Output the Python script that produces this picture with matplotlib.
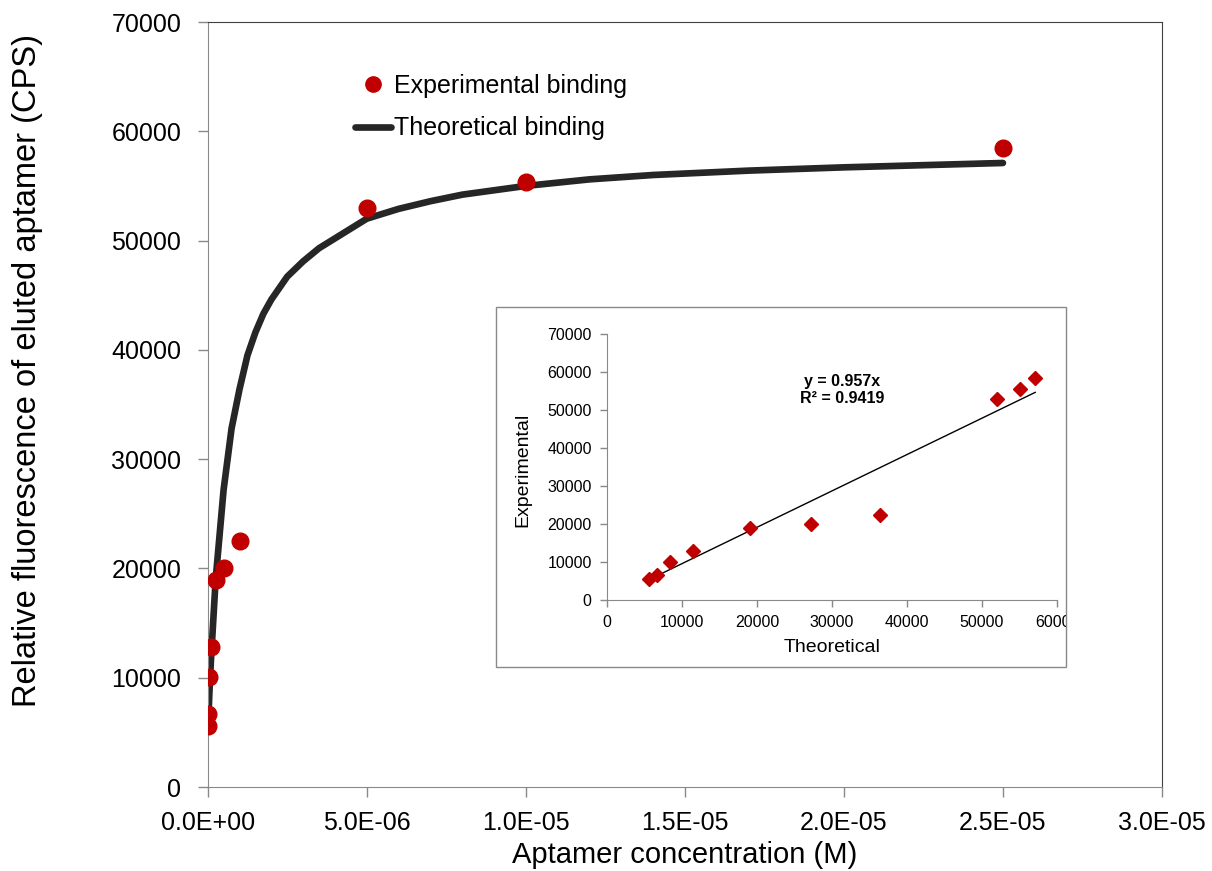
import matplotlib
matplotlib.use("Agg")
import matplotlib.pyplot as plt
from matplotlib.lines import Line2D
from matplotlib.patches import Rectangle
import numpy as np

plt.rcParams['font.family'] = ['Liberation Sans', 'DejaVu Sans']

# experimental binding (main chart)
conc = [1e-8, 2.5e-8, 5e-8, 1e-7, 2.5e-7, 5e-7, 1e-6, 5e-6, 1e-5, 2.5e-5]
exp_cps = [5600, 6700, 10100, 12800, 18900, 20000, 22500, 53000, 55400, 58500]

# theoretical binding curve
theo_conc = [1e-8, 2.5e-8, 5e-8, 1e-7, 2.5e-7, 5e-7, 7.5e-7, 1e-6, 1.25e-6,
             1.5e-6, 1.75e-6, 2e-6, 2.5e-6, 3e-6, 3.5e-6, 4e-6, 4.5e-6, 5e-6,
             6e-6, 7e-6, 8e-6, 9e-6, 1e-5, 1.2e-5, 1.4e-5, 1.7e-5, 2e-5, 2.5e-5]
theo_cps = [5600, 6600, 8400, 11500, 19000, 27200, 32800, 36400, 39500,
            41600, 43300, 44600, 46700, 48100, 49300, 50200, 51100, 52000,
            52900, 53600, 54200, 54600, 55000, 55600, 56000, 56400, 56700, 57100]

# inset: theoretical vs experimental at the measured concentrations
inset_theo = [5600, 6600, 8400, 11500, 19000, 27200, 36400, 52000, 55000, 57100]
inset_exp = exp_cps
slope = 0.957
r2 = 0.9419

W, H = 1212, 871
fig = plt.figure(figsize=(W / 100, H / 100), dpi=100)

# main axes
x0, x1, y0, y1 = 207.7, 1162, 787, 22
ax = fig.add_axes([x0 / W, 1 - y0 / H, (x1 - x0) / W, (y0 - y1) / H])
ax.set_zorder(0)

ax.plot(theo_conc, theo_cps, color='#262626', lw=4.8,
        solid_capstyle='round', zorder=2)
ax.plot(conc, exp_cps, 'o', color='#C00000', ms=12, mec='#C00000',
        zorder=3)

ax.set_xlim(0, 3e-5)
ax.set_ylim(0, 70000)
xt = np.arange(0, 3.01e-5, 5e-6)
ax.set_xticks(xt)
ax.set_xticklabels(['{:.1E}'.format(v) for v in xt])
ax.set_yticks(np.arange(0, 70001, 10000))
ax.tick_params(direction='out', length=7, width=1, color='#898989',
               labelsize=18)
ax.tick_params(axis='x', pad=10)
ax.tick_params(axis='y', pad=12)
for s in ['left', 'bottom']:
    ax.spines[s].set_color('#898989')
for s in ['top', 'right']:
    ax.spines[s].set_color('#404040')

ax.set_xlabel('Aptamer concentration (M)', fontsize=21)
ax.set_ylabel('Relative fluorescence of eluted aptamer (CPS)', fontsize=23.5)
ax.xaxis.set_label_coords(0.5, (y0 - 855) / (y0 - y1))
ax.yaxis.set_label_coords((27 - x0) / (x1 - x0), (y0 - 370) / (y0 - y1))
ax.xaxis.label.set_va('center')
ax.yaxis.label.set_va('center')

handles = [
    Line2D([], [], marker='o', ls='none', color='#C00000', ms=11),
    Line2D([], [], color='#262626', lw=4.8, solid_capstyle='round'),
]
fig.legend(handles, ['Experimental binding', 'Theoretical binding'],
           loc='upper left', bbox_to_anchor=(345 / W, 1 - 64 / H),
           frameon=False, fontsize=18, handlelength=1.45,
           handletextpad=0.1, borderaxespad=0, labelspacing=0.74)

# inset box
box = Rectangle((496 / W, 1 - 667 / H), 570 / W, 360 / H,
                transform=fig.transFigure, facecolor='white',
                edgecolor='#898989', lw=1, zorder=1)
fig.add_artist(box)

ix0, ix1, iy0, iy1 = 607, 1057, 600, 334
ax_in = fig.add_axes([ix0 / W, 1 - iy0 / H, (ix1 - ix0) / W, (iy0 - iy1) / H])
ax_in.set_zorder(2)
ax_in.patch.set_alpha(0)

fit_x = np.array([min(inset_theo), max(inset_theo)])
ax_in.plot(fit_x, slope * fit_x, color='black', lw=1)
ax_in.plot(inset_theo, inset_exp, 'D', color='#C00000', ms=7.5, zorder=3)

ax_in.set_xlim(0, 60000)
ax_in.set_ylim(0, 70000)
ax_in.set_xticks(np.arange(0, 60001, 10000))
ax_in.set_yticks(np.arange(0, 70001, 10000))
ax_in.tick_params(direction='out', length=5, width=1, color='#898989',
                  labelsize=11.5, pad=6)
ax_in.spines['top'].set_visible(False)
ax_in.spines['right'].set_visible(False)
for s in ['left', 'bottom']:
    ax_in.spines[s].set_color('#898989')

ax_in.set_xlabel('Theoretical', fontsize=14)
ax_in.set_ylabel('Experimental', fontsize=14)
ax_in.xaxis.set_label_coords(0.5, (iy0 - 647) / (iy0 - iy1))
ax_in.yaxis.set_label_coords((523 - ix0) / (ix1 - ix0), (iy0 - 470) / (iy0 - iy1))
ax_in.xaxis.label.set_va('center')
ax_in.yaxis.label.set_va('center')

ax_in.text((842 - ix0) / (ix1 - ix0), (iy0 - 390) / (iy0 - iy1),
           'y = {}x\nR² = {}'.format(slope, r2), transform=ax_in.transAxes,
           ha='center', va='center', fontsize=11.5, fontweight='bold',
           linespacing=1.15)

for t in ax_in.get_xticklabels():
    t.set_clip_path(box)

fig.savefig('out.png', dpi=100)
